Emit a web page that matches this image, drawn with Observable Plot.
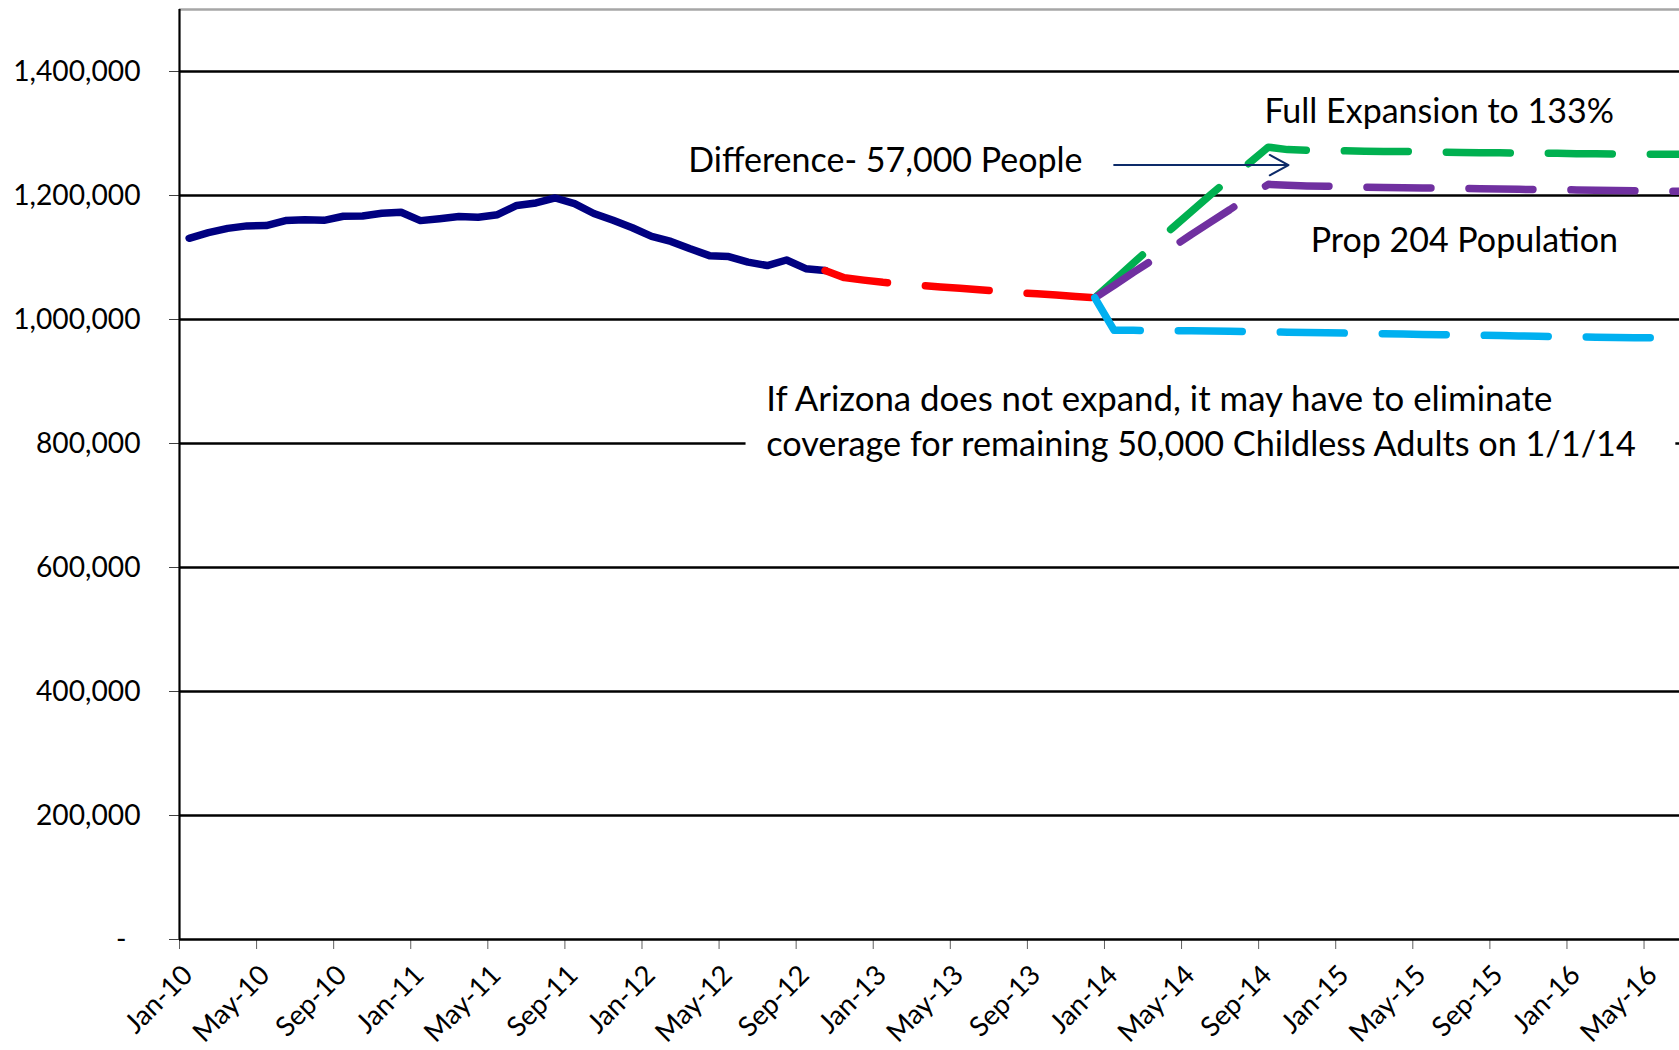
<!DOCTYPE html>
<html>
<head>
<meta charset="utf-8">
<script src="https://cdn.jsdelivr.net/npm/d3@7"></script>
<script src="https://cdn.jsdelivr.net/npm/@observablehq/plot@0.6"></script>
<style>
  html, body { margin: 0; padding: 0; background: #ffffff; }
  #chart { width: 1679px; height: 1050px; overflow: hidden; }
</style>
</head>
<body>
<div id="chart"></div>
<script>
// ---------- DATA (month index: 0 = Jan-10) ----------
const xTickLabels = ["Jan-10","May-10","Sep-10","Jan-11","May-11","Sep-11","Jan-12","May-12","Sep-12",
  "Jan-13","May-13","Sep-13","Jan-14","May-14","Sep-14","Jan-15","May-15","Sep-15","Jan-16","May-16"];
const yTickValues = [0, 200000, 400000, 600000, 800000, 1000000, 1200000, 1400000];

// Actual enrollment (solid navy), Jan-10 .. Oct-12
const actualStart = 0;
const actualValues = [1131000, 1140000, 1147000, 1151000, 1151500, 1159500, 1161000, 1160000, 1166500, 1167000,
  1171500, 1173000, 1159500, 1162500, 1166000, 1165000, 1169000, 1184000, 1188000, 1196000,
  1187000, 1171000, 1160000, 1148000, 1134000, 1126000, 1114000, 1103000, 1101500, 1092500,
  1087000, 1096000, 1082000, 1079000];

// Projection to Dec-13 (red dashed)
const projectedStart = 33;
const projectedValues = [1079000, 1067500, 1063500, 1060000, 1057500, 1055000, 1052500, 1050500, 1048000,
  1045500, 1043000, 1041500, 1039500, 1037000, 1035000];

// Full Expansion to 133% (green dashed)
const fullStart = 47;
const fullValues = [1035000, 1063000, 1091000, 1119000, 1147000, 1174000, 1201000, 1227000, 1252000, 1278000,
  1274000, 1273000, 1272500, 1272000, 1271500, 1271000, 1271000, 1270500, 1270000, 1269500,
  1269000, 1269000, 1268500, 1268000, 1268000, 1267500, 1267500, 1267000, 1267000, 1266500,
  1266500, 1266000];

// Prop 204 Population (purple dashed)
const propStart = 47;
const propValues = [1035000, 1055000, 1076000, 1096000, 1116000, 1137000, 1157000, 1177000, 1198000, 1218000,
  1216500, 1215500, 1215000, 1214500, 1213500, 1213000, 1212500, 1212000, 1212000, 1211500,
  1211000, 1210500, 1210000, 1209500, 1209500, 1209000, 1208500, 1208000, 1207500, 1207000,
  1207000, 1206500];

// No expansion (light blue dashed)
const noExpStart = 47;
const noExpValues = [1035000, 982500, 982500, 982000, 982000, 982000, 981500, 981000, 980500, 980000,
  979500, 979000, 978500, 978000, 977500, 977000, 976500, 976000, 975500, 975000,
  974500, 974000, 973500, 973000, 972500, 972000, 971500, 971000, 970500, 970500,
  970000, 969500];

// Annotations (data coordinates)
const annotations = [
  {label: "Difference- 57,000 People", month: 26.4, value: 1255000, size: 34},
  {label: "Full Expansion to 133%", month: 56.3, value: 1334000, size: 34},
  {label: "Prop 204 Population", month: 58.7, value: 1127000, size: 34},
  {label: "If Arizona does not expand, it may have to eliminate", month: 30.45, value: 870000, size: 34.8},
  {label: "coverage for remaining 50,000 Childless Adults on 1/1/14", month: 30.45, value: 797500, size: 34.2}
];
const arrows = [{month1: 48.5, month2: 57.55, value: 1249000}];
const noteBoxes = [{month1: 29.4, month2: 77.65, value1: 745000, value2: 930000}];

// ---------- BUILD ----------
const toRows = (start, values) => values.map((v, i) => ({month: start + i, value: v}));
const actual = toRows(actualStart, actualValues);
const projected = toRows(projectedStart, projectedValues);
const full = toRows(fullStart, fullValues);
const prop = toRows(propStart, propValues);
const noExp = toRows(noExpStart, noExpValues);
const xTicks = xTickLabels.map((_, i) => i * 4);
const fmt = d3.format(",");

const dash = "64,38";
const lineOpts = (color, dashed) => ({
  x: d => d.month + 0.5, y: "value", stroke: color, strokeWidth: 7.5,
  strokeLinecap: "round", strokeLinejoin: "round", clip: true,
  ...(dashed ? {strokeDasharray: dash} : {})
});

const chart = Plot.plot({
  width: 1679,
  height: 1050,
  marginLeft: 179,
  marginRight: 0,
  marginTop: 9,
  marginBottom: 111,
  style: {fontFamily: "Lato, 'Open Sans', sans-serif", background: "#ffffff", color: "#000"},
  x: {domain: [0, 77.84]},
  y: {domain: [0, 1500000]},
  marks: [
    Plot.ruleY(yTickValues.filter(d => d > 0), {stroke: "#000", strokeWidth: 2.5}),
    Plot.ruleY([1500000], {stroke: "#a6a6a6", strokeWidth: 2.5}),
    Plot.rect(noteBoxes, {x1: "month1", x2: "month2", y1: "value1", y2: "value2", fill: "#ffffff"}),
    Plot.axisY({
      ticks: yTickValues, tickSize: 10, tickPadding: 29, stroke: "#404040",
      tickFormat: d => d === 0 ? "-\u2002" : fmt(d), fontSize: 28.2, label: null
    }),
    // x tick marks
    Plot.axisX({
      ticks: xTicks, tickSize: 10, stroke: "#606060", tickFormat: () => "", label: null
    }),
    // x tick labels
    Plot.axisX({
      ticks: xTicks, tickSize: 0, tickPadding: 31, tickRotate: -45,
      tickFormat: d => xTickLabels[d / 4], fontSize: 27.5, dx: 8.5, label: null
    }),
    Plot.ruleX([0], {stroke: "#000", strokeWidth: 2.2}),
    Plot.ruleY([0], {stroke: "#000", strokeWidth: 2.5}),
    Plot.line(actual, lineOpts("#000080", false)),
    Plot.line(projected, lineOpts("#ff0000", true)),
    Plot.line(full, lineOpts("#00b050", true)),
    Plot.line(prop, lineOpts("#7030a0", true)),
    Plot.line(noExp, lineOpts("#00b0f0", true)),
    Plot.arrow(arrows, {
      x1: "month1", x2: "month2", y1: "value", y2: "value",
      stroke: "#0d2b69", strokeWidth: 2, headLength: 16, headAngle: 57
    }),
    Plot.text(annotations, {
      x: "month", y: "value", text: "label", textAnchor: "start", lineAnchor: "middle",
      fontSize: d => d.size, fill: "#000"
    })
  ]
});
document.getElementById("chart").appendChild(chart);
</script>
</body>
</html>
